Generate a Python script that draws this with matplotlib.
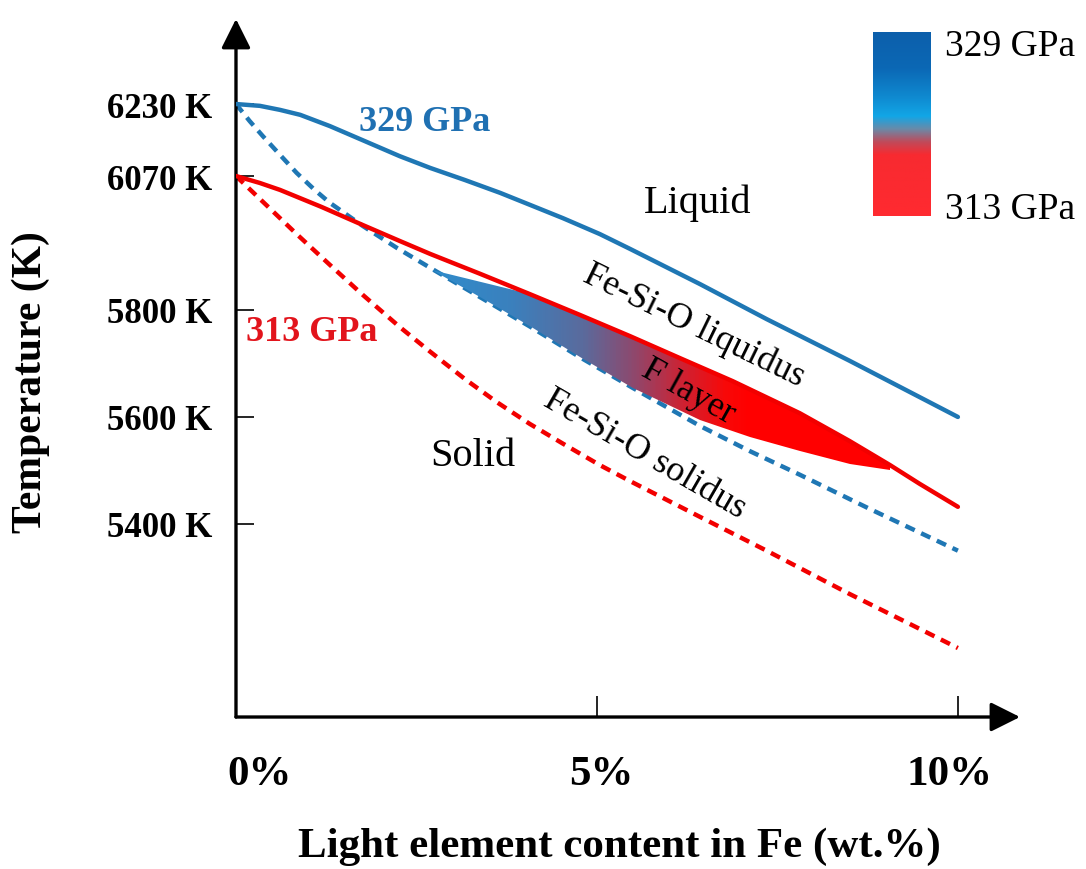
import numpy as np
import matplotlib
matplotlib.use("Agg")
import matplotlib.pyplot as plt
from matplotlib.colors import LinearSegmentedColormap, Normalize
from matplotlib.patches import Polygon
from matplotlib.transforms import ScaledTranslation

plt.rcParams['font.family'] = ['Liberation Serif', 'DejaVu Serif']

# light element content (wt.%) and temperature (K) along each curve
liq329_x = [0.0, 0.33, 0.61, 0.89, 1.30, 1.72, 2.27, 2.69, 3.17, 3.66, 4.07,
            4.53, 5.04, 5.46, 6.43, 7.35, 8.50, 9.20, 10.0]
liq329_T = [6230, 6226, 6217, 6206, 6181, 6152, 6114, 6088, 6062, 6036, 6012,
            5985, 5953, 5923, 5852, 5783, 5705, 5656, 5600]

liq313_x = [0.0, 0.33, 0.61, 1.18, 1.76, 2.27, 2.69, 3.38, 4.07, 4.76, 5.46,
            6.15, 6.88, 7.81, 8.50, 9.06, 9.47, 10.0]
liq313_T = [6070, 6056, 6042, 6008, 5971, 5939, 5913, 5873, 5832, 5791, 5751,
            5710, 5667, 5607, 5555, 5510, 5475, 5432]

sol329_x = [0.0, 0.19, 0.37, 0.61, 0.84, 1.09, 1.30, 1.76, 2.23, 2.69, 3.38,
            4.11, 4.76, 5.50, 6.43, 7.12, 7.81, 8.78, 10.0]
sol329_T = [6230, 6192, 6159, 6117, 6077, 6042, 6016, 5969, 5925, 5885, 5826,
            5766, 5712, 5654, 5583, 5536, 5492, 5428, 5350]

sol313_x = [0.0, 0.33, 0.84, 1.30, 1.76, 2.27, 2.69, 3.17, 3.61, 4.07, 4.53,
            5.04, 5.46, 6.43, 7.35, 8.50, 9.20, 10.0]
sol313_T = [6070, 6024, 5953, 5891, 5830, 5768, 5722, 5671, 5628, 5587, 5550,
            5510, 5480, 5413, 5350, 5269, 5222, 5168]

# F layer: upper edge along the 313 GPa liquidus, lower edge near the 329 GPa solidus
flayer_top_x = [2.71, 4.07, 4.76, 5.46, 6.15, 6.88, 7.81, 8.50, 9.06]
flayer_top_T = [5880, 5832, 5791, 5751, 5710, 5667, 5607, 5555, 5510]
flayer_bot_x = [2.71, 3.38, 4.11, 4.76, 5.50, 6.43, 7.12, 7.81, 8.50, 9.06]
flayer_bot_T = [5880, 5826, 5766, 5712, 5654, 5594, 5563, 5536, 5512, 5500]

xticks = [0, 5, 10]
xticklabels = ['0%', '5%', '10%']
yticks = [5400, 5600, 5800, 6070, 6230]
yticklabels = ['5400 K', '5600 K', '5800 K', '6070 K', '6230 K']

BLUE = '#1f77b4'
RED = '#f20000'

# schematic (piecewise linear) temperature axis
scale_K = [4600, 5400, 5600, 5800, 6070, 6230, 6800]
scale_pos = [-83, 345, 452, 559, 693, 765, 1021.5]


def fwd(v):
    return np.interp(v, scale_K, scale_pos)


def inv(v):
    return np.interp(v, scale_pos, scale_K)


fig = plt.figure(figsize=(10.86, 8.70), dpi=100)
ax = fig.add_axes([0.2173, 0.1747, 0.7219, 0.8023])
ax.set_yscale('function', functions=(fwd, inv))
ax.set_xlim(0, 10.86)
ax.set_ylim(5039, 6419)

for s in ax.spines.values():
    s.set_visible(False)

# axes drawn as arrows
arrow = dict(arrowstyle='-|>,head_length=0.9,head_width=0.45', lw=2.4,
             color='black', mutation_scale=20, shrinkA=0, shrinkB=0)
ax.annotate('', xy=(0, 1), xytext=(0, 0), xycoords='axes fraction', arrowprops=arrow)
ax.annotate('', xy=(1, 0), xytext=(0, 0), xycoords='axes fraction', arrowprops=arrow)

ax.set_xticks(xticks)
ax.set_xticklabels(xticklabels, fontsize=31, fontweight='bold')
ax.set_yticks(yticks)
ax.set_yticklabels(yticklabels, fontsize=25, fontweight='bold')
ax.tick_params(axis='x', direction='in', length=15, width=1.2, pad=27)
ax.tick_params(axis='y', direction='in', length=13, width=1.2, pad=17)
ax.minorticks_off()

# nudge x tick labels sideways
for lab, dx in zip(ax.get_xticklabels(), [24, 4, -8]):
    lab.set_transform(lab.get_transform() + ScaledTranslation(dx / 100, 0, fig.dpi_scale_trans))

# solidus curves (dashed)
ax.plot(sol329_x, sol329_T, color=BLUE, lw=3.2, dashes=(2.3, 1.6), zorder=2)
ax.plot(sol313_x, sol313_T, color=RED, lw=3.2, dashes=(2.3, 1.6), zorder=2)

# F layer with blue-to-red gradient
poly_xy = list(zip(flayer_top_x, flayer_top_T)) + list(zip(flayer_bot_x[::-1], flayer_bot_T[::-1]))
clip = Polygon(poly_xy, closed=True, facecolor='none', edgecolor='none', transform=ax.transData)
ax.add_patch(clip)
grad_cmap = LinearSegmentedColormap.from_list(
    'flayer', [(0.0, '#2f8ccb'), (0.25, '#3a80bd'), (0.48, '#5a6a9c'),
               (0.63, '#8a4a70'), (0.80, '#d02030'), (0.93, '#f80808'), (1.0, '#ff0000')])
gx = np.linspace(2.6, 9.2, 300)
gy = np.array([5400, 5950])
gc = 0.5 * (gx[:-1] + gx[1:])
mesh = ax.pcolormesh(gx, gy, gc[None, :], cmap=grad_cmap, norm=Normalize(2.7, 7.1),
                     shading='flat', zorder=3, rasterized=True)
mesh.set_clip_path(clip)

# liquidus curves (solid)
ax.plot(liq313_x, liq313_T, color=RED, lw=3.2, solid_capstyle='round', zorder=4)
ax.plot(liq329_x, liq329_T, color=BLUE, lw=3.2, solid_capstyle='round', zorder=4)

# labels inside the diagram
ax.text(2.62, 6192, '329 GPa', color='#1f70b2', fontsize=26, fontweight='bold',
        ha='center', va='center', zorder=5)
ax.text(1.05, 5759, '313 GPa', color='#e2141c', fontsize=26, fontweight='bold',
        ha='center', va='center', zorder=5)
ax.text(6.39, 6018, 'Liquid', fontsize=29, ha='center', va='center', zorder=5)
ax.text(3.28, 5527, 'Solid', fontsize=29, ha='center', va='center', zorder=5)
ax.text(6.35, 5772, 'Fe-Si-O liquidus', fontsize=26, rotation=-26,
        ha='center', va='center', rotation_mode='anchor', zorder=5)
ax.text(6.26, 5649, 'F layer', fontsize=26, rotation=-29,
        ha='center', va='center', rotation_mode='anchor', zorder=5)
ax.text(5.66, 5531, 'Fe-Si-O solidus', fontsize=26, rotation=-30,
        ha='center', va='center', rotation_mode='anchor', zorder=5)

# pressure colour bar
cax = fig.add_axes([0.8039, 0.7506, 0.0525, 0.2115])
bar_cmap = LinearSegmentedColormap.from_list(
    'pressure', [(0.0, '#0d5fab'), (0.2, '#0b68b5'), (0.35, '#0f88cf'), (0.46, '#12a6e6'),
                 (0.53, '#6a8aa8'), (0.60, '#c04a5a'), (0.67, '#f82a30'), (1.0, '#ff2a30')])
cax.imshow(np.linspace(0, 1, 256)[:, None], cmap=bar_cmap, aspect='auto',
           extent=[0, 1, 1, 0])
cax.set_axis_off()
fig.text(0.870, 0.946, '329 GPa', fontsize=27, va='center', ha='left')
fig.text(0.870, 0.759, '313 GPa', fontsize=27, va='center', ha='left')

# axis titles
fig.text(0.570, 0.027, 'Light element content in Fe (wt.%)', fontsize=31,
         fontweight='bold', ha='center', va='center')
fig.text(0.0285, 0.561, 'Temperature (K)', fontsize=30, fontweight='bold',
         rotation=90, ha='center', va='center')

fig.savefig('out.png', dpi=100)
